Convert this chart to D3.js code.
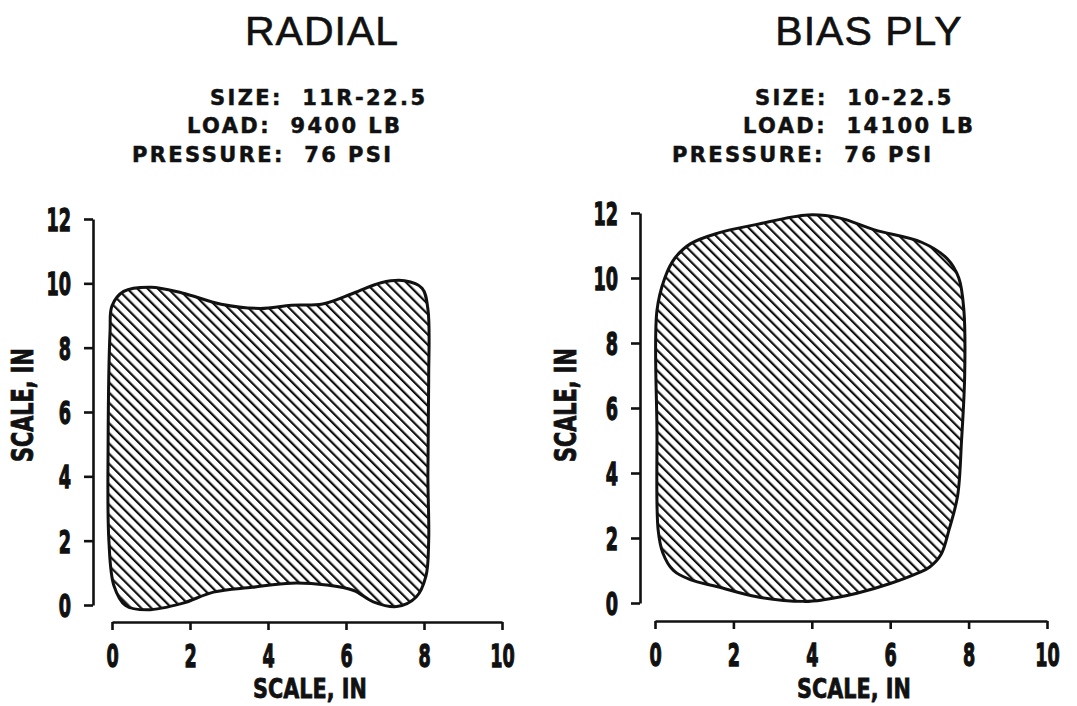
<!DOCTYPE html>
<html>
<head>
<meta charset="utf-8">
<script src="https://cdn.jsdelivr.net/npm/d3@7"></script>
<style>
  body { margin: 0; background: #fff; }
  svg { display: block; }
  .spec { font-family: "DejaVu Sans", Verdana, sans-serif; font-weight: bold; white-space: pre; }
  .cond { font-family: "DejaVu Sans", sans-serif; font-weight: bold; }
</style>
</head>
<body>
<div id="graf"></div>
<script>
// datos: contornos de la huella (pulgadas)
radialOutline = [
  [0.0, 9.3], [0.3, 9.75], [1.0, 9.88], [1.8, 9.7], [2.8, 9.35], [3.8, 9.22],
  [4.6, 9.32], [5.4, 9.36], [6.2, 9.7], [6.9, 10.02], [7.5, 10.08], [7.95, 9.85],
  [8.1, 9.2], [8.12, 7.0], [8.1, 4.0], [8.12, 2.0], [8.05, 0.9], [7.8, 0.25],
  [7.3, -0.05], [6.7, 0.1], [6.2, 0.45], [5.5, 0.62], [4.6, 0.68], [3.6, 0.55],
  [2.6, 0.4], [1.8, 0.05], [0.9, -0.15], [0.35, -0.02], [0.05, 0.6], [-0.08, 2.0],
  [-0.1, 5.0], [-0.05, 8.5]
]
biasOutline = [
  [0.05, 9.0], [0.25, 10.0], [0.5, 10.6], [0.9, 11.05], [1.6, 11.38], [2.6, 11.65],
  [3.9, 11.94], [4.7, 11.85], [5.6, 11.48], [6.8, 11.1], [7.45, 10.6], [7.75, 10.0],
  [7.88, 9.0], [7.9, 7.0], [7.82, 5.0], [7.72, 3.3], [7.5, 2.25], [7.3, 1.5],
  [7.0, 1.1], [6.7, 0.92], [6.0, 0.6], [5.15, 0.3], [4.3, 0.1], [3.8, 0.05],
  [2.6, 0.19], [1.6, 0.5], [0.9, 0.72], [0.47, 1.0], [0.2, 1.54], [0.08, 2.25],
  [0.05, 5.3]
]
xTicks = [0, 2, 4, 6, 8, 10]
yTicks = [0, 2, 4, 6, 8, 10, 12]
titles = ['RADIAL', 'BIAS PLY']
radialSpecs = ['SIZE:  11R-22.5', 'LOAD:  9400 LB', 'PRESSURE:  76 PSI']
biasSpecs = ['SIZE:  10-22.5', 'LOAD:  14100 LB', 'PRESSURE:  76 PSI']
axisTitle = 'SCALE, IN'

// -- canvas --
ancho_total = 1077
alto_total = 706
svg = d3.select('#graf').append('svg')
        .attr('width', ancho_total)
        .attr('height', alto_total)

// patrón de rayado
svg.append('defs').append('pattern')
   .attr('id', 'hatch')
   .attr('patternUnits', 'userSpaceOnUse')
   .attr('width', 7.2).attr('height', 7.2)
   .attr('patternTransform', 'rotate(-45)')
   .append('line')
   .attr('x1', 0).attr('y1', 0).attr('x2', 0).attr('y2', 7.2)
   .attr('stroke', '#111').attr('stroke-width', 4.4)

paneles = [
  { title: titles[0], titleX: 322, specs: radialSpecs, specX: [210, 187, 132],
    outline: radialOutline, axX: 93, xr: [112, 502], yr: [605, 219], axY: 622,
    labX: 22, labXc: 310 },
  { title: titles[1], titleX: 869, specs: biasSpecs, specX: [755, 743, 672],
    outline: biasOutline, axX: 640, xr: [655, 1047], yr: [603, 213], axY: 621,
    labX: 565, labXc: 854 }
]

specY = [105, 133, 162]

// letras condensadas y altas (escala horizontal / vertical)
function condensar(sel, sx, sy) {
  sel.each(function () {
    t = d3.select(this)
    x0 = +t.attr('x') || 0
    y0 = +t.attr('y') || 0
    t.attr('x', 0).attr('y', 0)
     .attr('transform', `translate(${x0}, ${y0}) scale(${sx}, ${sy})`)
  })
}

function render(p) {
  x = d3.scaleLinear().domain([0, 10]).range(p.xr)
  y = d3.scaleLinear().domain([0, 12]).range(p.yr)

  svg.append('text')
     .attr('x', p.titleX).attr('y', 45)
     .attr('text-anchor', 'middle')
     .style('font-family', '"Liberation Sans", Arial, sans-serif')
     .style('font-size', '41px')
     .style('letter-spacing', '1px')
     .attr('fill', '#111')
     .attr('stroke', '#111').attr('stroke-width', 0.6)
     .text(p.title)

  svg.selectAll(null)
     .data(p.specs).enter()
     .append('text')
     .attr('class', 'spec')
     .attr('x', (d, i) => p.specX[i])
     .attr('y', (d, i) => specY[i])
     .style('font-size', '21px')
     .style('letter-spacing', '2.4px')
     .attr('fill', '#111')
     .attr('stroke', '#111').attr('stroke-width', 0.5)
     .text(d => d)

  // huella
  linea = d3.line()
            .x(d => x(d[0]))
            .y(d => y(d[1]))
            .curve(d3.curveCatmullRomClosed.alpha(0.5))
  svg.append('path')
     .datum(p.outline)
     .attr('d', linea)
     .attr('fill', 'url(#hatch)')
     .attr('stroke', '#111')
     .attr('stroke-width', 3)

  // ejes
  yAx = svg.append('g')
           .attr('transform', `translate(${p.axX}, 0)`)
           .call(d3.axisLeft(y).tickValues(yTicks).tickSize(9).tickSizeOuter(0).tickPadding(13).tickFormat(d3.format('d')))
  xAx = svg.append('g')
           .attr('transform', `translate(0, ${p.axY})`)
           .call(d3.axisBottom(x).tickValues(xTicks).tickSize(8).tickSizeOuter(0).tickPadding(14).tickFormat(d3.format('d')))
  ;[yAx, xAx].forEach(a => {
    a.selectAll('path, line').attr('stroke', '#111').attr('stroke-width', 2.6)
    a.selectAll('text')
     .attr('class', 'cond')
     .style('font-size', '22px')
     .attr('fill', '#111')
     .attr('stroke', '#111').attr('stroke-width', 0.9)
  })
  yAx.selectAll('text').attr('dy', '0.36em')
  condensar(yAx.selectAll('text'), 0.8, 1.45)
  condensar(xAx.selectAll('text'), 0.8, 1.45)

  svg.append('text')
     .attr('class', 'cond')
     .attr('transform', `translate(${p.labX}, 405) rotate(-90) scale(0.99, 1.4)`)
     .attr('text-anchor', 'middle')
     .attr('dy', '0.36em')
     .style('font-size', '21px')
     .attr('fill', '#111')
     .attr('stroke', '#111').attr('stroke-width', 0.6)
     .text(axisTitle)
  svg.append('text')
     .attr('class', 'cond')
     .attr('transform', `translate(${p.labXc}, 698) scale(0.99, 1.3)`)
     .attr('text-anchor', 'middle')
     .style('font-size', '21px')
     .attr('fill', '#111')
     .attr('stroke', '#111').attr('stroke-width', 0.6)
     .text(axisTitle)
}

paneles.forEach(render)
</script>
</body>
</html>
